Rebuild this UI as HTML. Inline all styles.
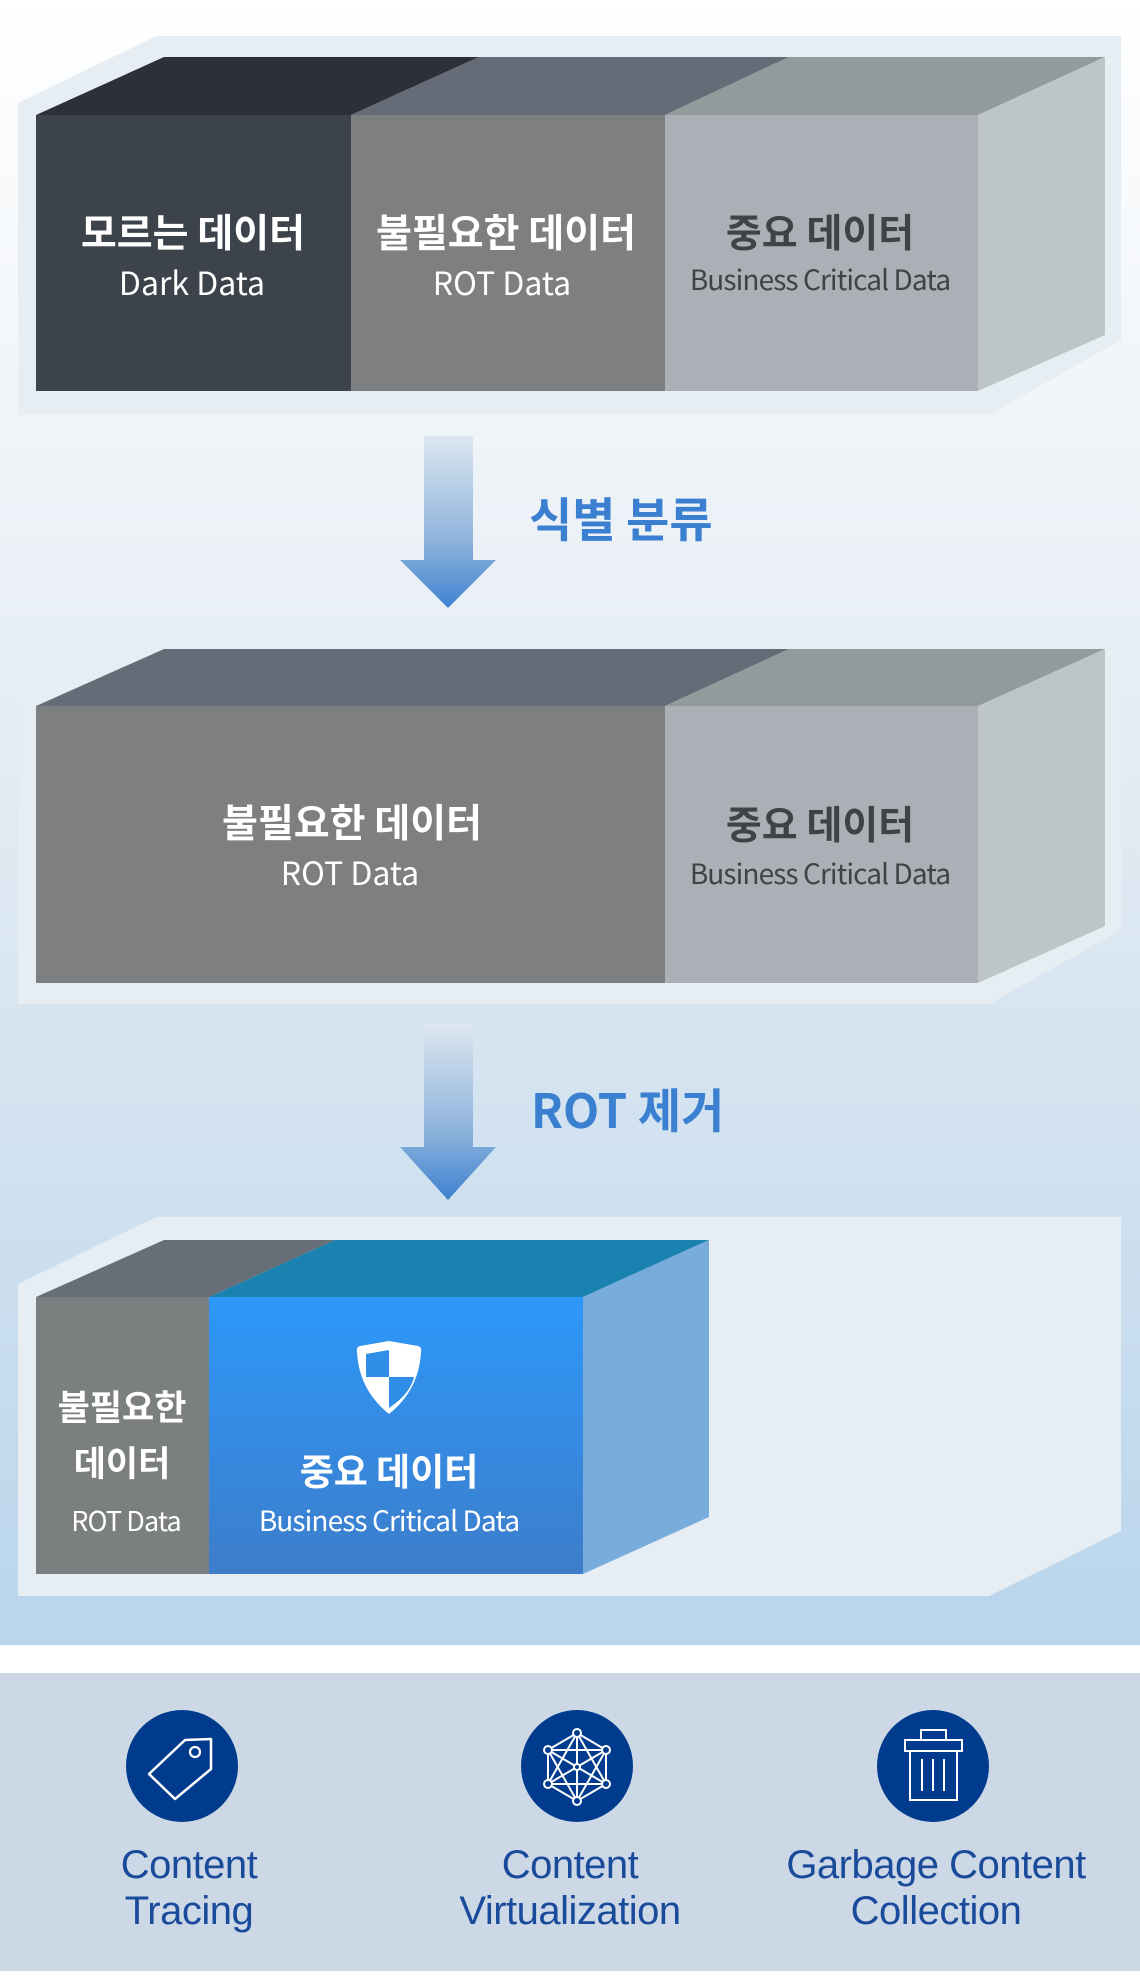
<!DOCTYPE html>
<html><head><meta charset="utf-8"><style>
html,body{margin:0;padding:0;width:1140px;height:1976px;overflow:hidden;background:#fff}
svg{display:block}
text{font-family:"Liberation Sans","Noto Sans CJK KR",sans-serif}
.k{font-family:"Noto Sans CJK KR","Liberation Sans",sans-serif;font-weight:700}
.e{font-family:"Noto Sans CJK KR","Liberation Sans",sans-serif;font-weight:400}
.m{font-family:"Noto Sans CJK KR","Liberation Sans",sans-serif;font-weight:500}
</style></head><body>
<svg width="1140" height="1976" viewBox="0 0 1140 1976" xmlns="http://www.w3.org/2000/svg">
<defs>
<linearGradient id="bg" x1="0" y1="0" x2="0" y2="1"><stop offset="0" stop-color="#ffffff"/><stop offset="0.5" stop-color="#e1eaf2"/><stop offset="1" stop-color="#b9d5ec"/></linearGradient>
<linearGradient id="ar" x1="0" y1="0" x2="0" y2="1"><stop offset="0" stop-color="#dde7f0"/><stop offset="0.6" stop-color="#8fb4dc"/><stop offset="1" stop-color="#3f82d0"/></linearGradient>
<linearGradient id="bl" x1="0" y1="0" x2="0" y2="1"><stop offset="0" stop-color="#2d98fa"/><stop offset="1" stop-color="#3d7dca"/></linearGradient>
</defs>
<rect x="0" y="0" width="1140" height="1645" fill="url(#bg)"/>
<rect x="0" y="1673" width="1140" height="298" fill="#cdd8e7"/>

<!-- plate 1 -->
<polygon points="156,36 1121,36 1121,340 989,415 18,415 18,103" fill="#e7eef3"/>
<polygon points="36,115 164,57 479,57 351,115" fill="#2c3137"/>
<polygon points="351,115 479,57 789,57 665,115" fill="#666c77"/>
<polygon points="665,115 789,57 1105,57 978,115" fill="#939a9c"/>
<polygon points="978,115 1105,57 1105,335 978,391" fill="#bec5c7"/>
<rect x="36" y="115" width="315" height="276" fill="#3d434a"/>
<rect x="351" y="115" width="314" height="276" fill="#7d7f80"/>
<rect x="665" y="115" width="313" height="276" fill="#aab0b5"/>
<text class="k" x="193" y="247" font-size="39" fill="#fff" text-anchor="middle">모르는 데이터</text>
<text class="e" x="192" y="295" font-size="32" fill="#fff" text-anchor="middle">Dark Data</text>
<text class="k" x="506" y="247" font-size="39" fill="#fff" text-anchor="middle">불필요한 데이터</text>
<text class="e" x="502" y="295" font-size="32" fill="#fff" text-anchor="middle">ROT Data</text>
<text class="k" x="820" y="247" font-size="39" fill="#3f4347" text-anchor="middle">중요 데이터</text>
<text class="e" x="820" y="290" font-size="28" fill="#3f4347" text-anchor="middle" letter-spacing="-0.9">Business Critical Data</text>

<!-- arrow 1 -->
<polygon points="424,436 473,436 473,560 496,560 448,608 400,560 424,560" fill="url(#ar)"/>
<text class="k" x="529" y="537" font-size="47" fill="#3a7fd0">식별 분류</text>

<!-- plate 2 -->
<polygon points="156,627 1121,627 1121,930 989,1004 18,1004 18,694" fill="#e7eef3"/>
<polygon points="36,706 164,649 789,649 665,706" fill="#666c77"/>
<polygon points="665,706 789,649 1105,649 978,706" fill="#939a9c"/>
<polygon points="978,706 1105,649 1105,926 978,983" fill="#bec5c7"/>
<rect x="36" y="706" width="629" height="277" fill="#7d7f80"/>
<rect x="665" y="706" width="313" height="277" fill="#aab0b5"/>
<text class="k" x="352" y="837" font-size="39" fill="#fff" text-anchor="middle">불필요한 데이터</text>
<text class="e" x="350" y="885" font-size="32" fill="#fff" text-anchor="middle">ROT Data</text>
<text class="k" x="820" y="839" font-size="39" fill="#3f4347" text-anchor="middle">중요 데이터</text>
<text class="e" x="820" y="884" font-size="28" fill="#3f4347" text-anchor="middle" letter-spacing="-0.9">Business Critical Data</text>

<!-- arrow 2 -->
<polygon points="424,1023 473,1023 473,1147 496,1147 448,1200 400,1147 424,1147" fill="url(#ar)"/>
<text class="k" x="531" y="1128" font-size="47" fill="#3a7fd0">ROT 제거</text>

<!-- plate 3 -->
<polygon points="156,1217 1121,1217 1121,1531 989,1596 18,1596 18,1284" fill="#e7eef3"/>
<polygon points="36,1297 164,1240 335,1240 209,1297" fill="#686e78"/>
<polygon points="209,1297 335,1240 709,1240 583,1297" fill="#1a82b0"/>
<polygon points="583,1297 709,1240 709,1517 583,1574" fill="#78acdb"/>
<rect x="36" y="1297" width="173" height="277" fill="#7c7f80"/>
<rect x="209" y="1297" width="374" height="277" fill="url(#bl)"/>
<path d="M389,1341 L360,1346 Q356,1347 357,1352 Q359,1390 389,1414 Q419,1390 421,1352 Q422,1347 418,1346 Z" fill="#fff"/>
<path d="M389,1350 L366,1354 L366,1377 L389,1377 Z M389,1377 L414,1377 Q410,1394 389,1408 Z" fill="#2f8ee8"/>
<text class="k" x="389" y="1485" font-size="37" fill="#fff" text-anchor="middle">중요 데이터</text>
<text class="e" x="389" y="1531" font-size="28" fill="#fff" text-anchor="middle" letter-spacing="-0.9">Business Critical Data</text>
<text class="k" x="122" y="1420" font-size="35" fill="#fff" text-anchor="middle">불필요한</text>
<text class="k" x="122" y="1476" font-size="35" fill="#fff" text-anchor="middle">데이터</text>
<text class="e" x="126" y="1531" font-size="27" fill="#fff" text-anchor="middle" letter-spacing="-0.9">ROT Data</text>

<!-- icons -->
<ellipse cx="182" cy="1766" rx="56" ry="56" fill="#003b8e"/>
<polygon points="185,1740 211,1739 211,1769 175,1799 149,1774" fill="none" stroke="#fff" stroke-width="2.5" stroke-linejoin="round"/>
<circle cx="195" cy="1752" r="5" fill="none" stroke="#fff" stroke-width="2.2"/>

<ellipse cx="577" cy="1766" rx="56" ry="56" fill="#003b8e"/>
<g stroke="#fff" stroke-width="2" fill="none">
<path d="M577,1733 L606,1750 L606,1784 L577,1801 L548,1784 L548,1750 Z"/>
<path d="M577,1733 L577,1801 M548,1750 L606,1784 M606,1750 L548,1784 M577,1733 L548,1784 L606,1784 Z M577,1801 L548,1750 L606,1750 Z M548,1750 L548,1784"/>
</g>
<g fill="#003b8e" stroke="#fff" stroke-width="2">
<circle cx="577" cy="1733" r="4"/><circle cx="606" cy="1750" r="4"/><circle cx="606" cy="1784" r="4"/><circle cx="577" cy="1801" r="4"/><circle cx="548" cy="1784" r="4"/><circle cx="548" cy="1750" r="4"/><circle cx="577" cy="1767" r="3"/>
</g>

<ellipse cx="933" cy="1766" rx="56" ry="56" fill="#003b8e"/>
<g stroke="#fff" stroke-width="2" fill="none">
<rect x="921" y="1730" width="25" height="10"/>
<rect x="905" y="1740" width="57" height="11"/>
<rect x="910" y="1751" width="47" height="49"/>
<path d="M922,1759 V1791 M933,1759 V1791 M944,1759 V1791"/>
</g>

<g class="m" font-size="40" fill="#1a4a9a" text-anchor="middle" letter-spacing="-0.5">
<text x="189" y="1878">Content</text>
<text x="189" y="1924">Tracing</text>
<text x="570" y="1878">Content</text>
<text x="570" y="1924">Virtualization</text>
<text x="936" y="1878">Garbage Content</text>
<text x="936" y="1924">Collection</text>
</g>
</svg>
</body></html>
